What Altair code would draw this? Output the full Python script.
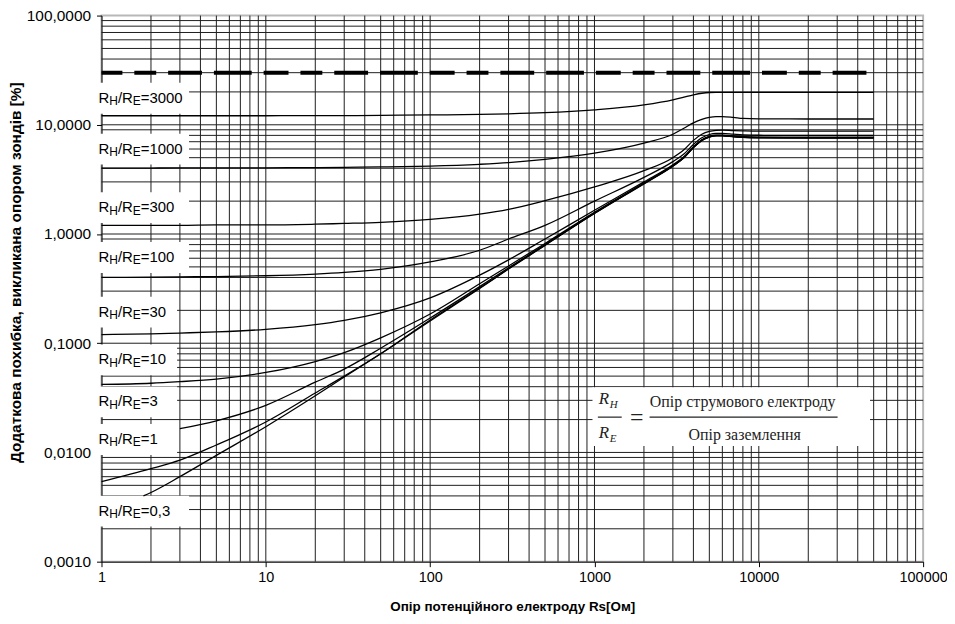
import altair as alt
import pandas as pd

# ---------------- data ----------------
rs_full = [1, 2, 3, 5, 10, 20, 30, 50, 100, 200, 300, 500, 1000, 2000, 3000, 3500,
           4000, 4500, 5000, 5500, 6000, 7000, 8000, 10000, 20000, 50000]
rs_from3 = [3, 5, 10, 20, 30, 50, 100, 200, 300, 500, 1000, 2000, 3000, 3500,
            4000, 4500, 5000, 5500, 6000, 7000, 8000, 10000, 20000, 50000]
rs_from18 = [1.8, 2, 3, 5, 10, 20, 30, 50, 100, 200, 300, 500, 1000, 2000, 3000, 3500,
             4000, 4500, 5000, 5500, 6000, 7000, 8000, 10000, 20000, 50000]

err_3000 = [12.1, 12.1, 12.1, 12.1, 12.1, 12.15, 12.15, 12.2, 12.3, 12.45, 12.6, 12.9, 13.7,
            15.2, 16.9, 17.9, 18.8, 19.45, 19.75, 19.8, 19.8, 19.8, 19.8, 19.8, 19.8, 19.8]
err_1000 = [4.02, 4.02, 4.03, 4.03, 4.04, 4.06, 4.08, 4.11, 4.19, 4.35, 4.5, 4.82, 5.5,
            6.8, 8.2, 9.3, 10.4, 11.2, 11.7, 11.9, 11.9, 11.7, 11.45, 11.35, 11.3, 11.3]
err_300 = [1.2, 1.2, 1.2, 1.21, 1.21, 1.23, 1.25, 1.28, 1.36, 1.52, 1.68, 2.02, 2.7,
           3.8, 5.0, 5.9, 7.2, 8.2, 8.7, 8.9, 8.95, 8.85, 8.8, 8.75, 8.75, 8.75]
err_100 = [0.40, 0.403, 0.405, 0.408, 0.415, 0.43, 0.445, 0.475, 0.555, 0.71, 0.9, 1.2, 2.0,
           3.3, 4.6, 5.4, 6.6, 7.6, 8.15, 8.35, 8.35, 8.2, 8.08, 8.02, 8.0, 8.0]
err_30 = [0.12, 0.122, 0.124, 0.127, 0.134, 0.148, 0.162, 0.19, 0.26, 0.42, 0.58, 0.9, 1.65,
          3.0, 4.3, 5.1, 6.3, 7.3, 7.85, 8.05, 8.05, 7.9, 7.78, 7.72, 7.7, 7.7]
err_10 = [0.042, 0.043, 0.0445, 0.047, 0.054, 0.068, 0.082, 0.112, 0.185, 0.35, 0.51, 0.82, 1.58,
          2.93, 4.24, 5.04, 6.24, 7.24, 7.79, 7.99, 7.99, 7.84, 7.72, 7.66, 7.64, 7.64]
err_3 = [0.0165, 0.0195, 0.027, 0.044, 0.058, 0.09, 0.17, 0.33, 0.49, 0.8, 1.56,
         2.91, 4.21, 5.01, 6.21, 7.21, 7.76, 7.96, 7.96, 7.81, 7.69, 7.63, 7.61, 7.61]
err_1 = [0.0054, 0.0071, 0.0085, 0.0117, 0.019, 0.035, 0.05, 0.08, 0.163, 0.32, 0.48, 0.79, 1.55,
         2.9, 4.2, 5.0, 6.2, 7.2, 7.75, 7.95, 7.95, 7.8, 7.68, 7.62, 7.6, 7.6]
err_03 = [0.004, 0.0043, 0.006, 0.0094, 0.0172, 0.033, 0.049, 0.08, 0.16, 0.318, 0.478, 0.787, 1.54,
          2.88, 4.18, 4.98, 6.18, 7.18, 7.73, 7.93, 7.93, 7.78, 7.66, 7.6, 7.58, 7.58]

limit_rs = [1, 50000]
limit_val = [30, 30]

label_names = ["3000", "1000", "300", "100", "30", "10", "3", "1", "0,3"]
label_vals = [17.7, 6.06, 1.76, 0.616, 0.195, 0.0711, 0.0294, 0.01327, 0.00293]
label_rs = 1

formula_rs = 1000
formula_val = 0.0395
formula_num = "Опір струмового електроду"
formula_den = "Опір заземлення"

x_ticks = [1, 10, 100, 1000, 10000, 100000]
y_ticks = [0.001, 0.01, 0.1, 1, 10, 100]
x_grid = [m * 10 ** e for e in range(5) for m in range(1, 10)][1:]
y_grid = [round(m * 10.0 ** e, 6) for e in range(-3, 2) for m in range(1, 10)][1:]

x_title = "Опір потенційного електроду Rs[Ом]"
y_title = "Додаткова похибка, викликана опором зондів [%]"

# ---------------- tables ----------------
series = [
    ("3000", rs_full, err_3000), ("1000", rs_full, err_1000), ("300", rs_full, err_300),
    ("100", rs_full, err_100), ("30", rs_full, err_30), ("10", rs_full, err_10),
    ("3", rs_from3, err_3), ("1", rs_full, err_1), ("0,3", rs_from18, err_03),
]
rows = []
for name, xs_, ys_ in series:
    for i, (a, b) in enumerate(zip(xs_, ys_)):
        rows.append({"series": name, "rs": a, "val": b, "order": i})
curves = pd.DataFrame(rows)
limit_df = pd.DataFrame({"rs": limit_rs, "val": limit_val})
labels_df = pd.DataFrame({"name": label_names, "val": label_vals, "rs": [label_rs] * len(label_names)})
labels_df["long"] = labels_df["name"].str.len() >= 3
gx = pd.DataFrame({"v": x_grid})
gy = pd.DataFrame({"v": y_grid})
fdf = pd.DataFrame({"rs": [formula_rs], "val": [formula_val],
                    "num": [formula_num], "den": [formula_den]})

# ---------------- scales / axes ----------------
FONT = "Liberation Sans"
xs = alt.Scale(type="log", domain=[1, 100000], nice=False)
ys = alt.Scale(type="log", domain=[0.001, 100], nice=False)
x_axis = alt.Axis(values=x_ticks, labelExpr="format(datum.value, 'd')", title=x_title,
                  titleX=413, titleY=45, titleAlign="center", titleBaseline="middle",
                  labelPadding=4, labelFontSize=14.5, labelFlush=False, titleFontSize=13.5)
y_axis = alt.Axis(values=y_ticks, labelExpr="replace(format(datum.value, '.4f'), '.', ',')",
                  title=y_title, titleX=-86, titleY=258, titleAlign="center",
                  titleBaseline="middle", titleAngle=-90, labelPadding=6, labelFontSize=15.5,
                  titleFontSize=15.5)


def X(field, **kw):
    return alt.X(field, type="quantitative", scale=xs, axis=x_axis, **kw)


def Y(field, **kw):
    return alt.Y(field, type="quantitative", scale=ys, axis=y_axis, **kw)


GRID = "#1e1e1e"
grid_x = alt.Chart(gx).mark_rule(color=GRID, strokeWidth=1).encode(x=X("v"))
grid_y = alt.Chart(gy).mark_rule(color=GRID, strokeWidth=1).encode(y=Y("v"))

box_long = alt.Chart(labels_df).transform_filter("datum.long").mark_rect(
    color="white", xOffset=-7, x2Offset=88, yOffset=-15, y2Offset=16
).encode(x=X("rs"), x2="rs", y=Y("val"), y2="val")
box_short = alt.Chart(labels_df).transform_filter("!datum.long").mark_rect(
    color="white", xOffset=-7, x2Offset=76, yOffset=-15, y2Offset=16
).encode(x=X("rs"), x2="rs", y=Y("val"), y2="val")

formula_box = alt.Chart(fdf).mark_rect(
    color="white", xOffset=-2, x2Offset=277, yOffset=0, y2Offset=59
).encode(x=X("rs"), x2="rs", y=Y("val"), y2="val")

lines = alt.Chart(curves).mark_line(color="black", strokeWidth=1.3, interpolate="monotone").encode(
    x=X("rs"), y=Y("val"), detail="series:N", order="order:Q"
)
limit = alt.Chart(limit_df).mark_line(
    color="black", strokeWidth=4, strokeDash=[25, 12, 22, 12, 34, 12, 38, 12], strokeDashOffset=4
).encode(x=X("rs"), y=Y("val"))

base_lbl = alt.Chart(labels_df)
tkw = dict(font=FONT, color="black", align="left", baseline="middle")
t_r1 = base_lbl.mark_text(text="R", fontSize=15, dx=-3, **tkw).encode(x=X("rs"), y=Y("val"))
t_h = base_lbl.mark_text(text="H", fontSize=12, dx=7.8, dy=3.5, **tkw).encode(x=X("rs"), y=Y("val"))
t_r2 = base_lbl.mark_text(text="/R", fontSize=15, dx=16.5, **tkw).encode(x=X("rs"), y=Y("val"))
t_e = base_lbl.mark_text(text="E", fontSize=12, dx=31.5, dy=3.5, **tkw).encode(x=X("rs"), y=Y("val"))
t_v = base_lbl.mark_text(fontSize=15, dx=39.5, **tkw).encode(
    x=X("rs"), y=Y("val"), text=alt.Text("label:N")
).transform_calculate(label="'=' + datum.name")

SERIF = "Liberation Serif"
fb = alt.Chart(fdf)
fk = dict(font=SERIF, color="#222", baseline="alphabetic")
f_r1 = fb.mark_text(text="R", fontSize=17, fontStyle="italic", align="left", dx=4.4, dy=17, **fk).encode(x=X("rs"), y=Y("val"))
f_h = fb.mark_text(text="H", fontSize=11, fontStyle="italic", align="left", dx=15.4, dy=21, **fk).encode(x=X("rs"), y=Y("val"))
f_r2 = fb.mark_text(text="R", fontSize=17, fontStyle="italic", align="left", dx=4.4, dy=51, **fk).encode(x=X("rs"), y=Y("val"))
f_e = fb.mark_text(text="E", fontSize=11, fontStyle="italic", align="left", dx=15.4, dy=55, **fk).encode(x=X("rs"), y=Y("val"))
f_eq = fb.mark_text(text="=", fontSize=24, align="center", dx=42.4, dy=38, **fk).encode(x=X("rs"), y=Y("val"))
f_num = fb.mark_text(fontSize=16, align="center", dx=149, dy=20, **fk).encode(x=X("rs"), y=Y("val"), text="num:N")
f_den = fb.mark_text(fontSize=16, align="center", dx=151, dy=53, **fk).encode(x=X("rs"), y=Y("val"), text="den:N")
f_bar1 = fb.mark_rule(color="#222", strokeWidth=1.2, xOffset=3.4, x2Offset=27.4, yOffset=30).encode(
    x=X("rs"), x2="rs", y=Y("val"))
f_bar2 = fb.mark_rule(color="#222", strokeWidth=1.2, xOffset=55.4, x2Offset=244.4, yOffset=30).encode(
    x=X("rs"), x2="rs", y=Y("val"))

chart = alt.layer(
    grid_x, grid_y, box_long, box_short, formula_box, lines, limit,
    t_r1, t_h, t_r2, t_e, t_v,
    f_r1, f_h, f_r2, f_e, f_eq, f_num, f_den, f_bar1, f_bar2,
).properties(
    width=826, height=549,
    padding={"left": 94, "top": 6, "right": 24, "bottom": 53},
    autosize=alt.AutoSizeParams(type="none"),
).configure_view(
    stroke="#b8b8b8", strokeWidth=2
).configure_axis(
    labelFont=FONT, labelColor="black", tickColor="black", domainColor="black",
    tickSize=5, grid=False, titleFont=FONT, titleFontWeight="bold",
    titleColor="black", domainWidth=1, tickWidth=1
)

chart.save("out.html", embed_options={"renderer": "svg", "actions": False})
